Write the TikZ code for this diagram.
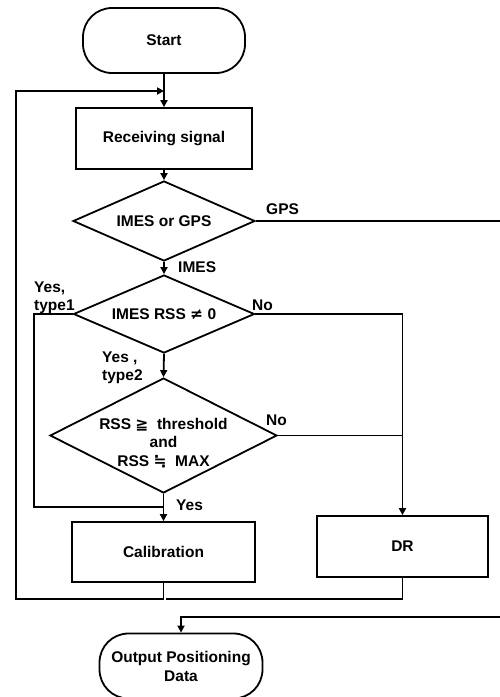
\documentclass[tikz,border=0pt]{standalone}
\usepackage{fontspec}
\setmainfont{Liberation Sans}
\newfontfamily\symfont{DejaVu Sans}
\usetikzlibrary{arrows.meta,shapes.geometric}
\begin{document}
\begin{tikzpicture}[x=1pt,y=-1pt,
  every node/.style={font=\bfseries\fontsize{15.5pt}{18.5pt}\selectfont, inner sep=0pt},
  ln/.style={line width=1.8pt},
  arr/.style={ln,-{Triangle[length=7pt,width=7pt]}},
  term/.style={draw, line width=1.8pt, rectangle, rounded corners=29pt, align=center},
  proc/.style={draw, line width=1.8pt, rectangle},
  dec/.style={draw, line width=1.8pt, diamond},
  lab/.style={anchor=west, align=left}]
\useasboundingbox (0,0) rectangle (500,697);
% nodes
\node[term, minimum width=162pt, minimum height=65pt] (start) at (164,40.5) {Start};
\node[proc, minimum width=176pt, minimum height=61pt] (recv) at (164,138.5) {Receiving signal};
\node[dec, minimum width=182pt, minimum height=80pt] (d1) at (164,221) {};
\node at (d1) {IMES or GPS};
\node[dec, minimum width=181pt, minimum height=78pt] (d2) at (164,314) {};
\node at (d2) {IMES RSS {\symfont ≠} 0};
\node[dec, minimum width=227pt, minimum height=115pt] (d3) at (163.5,435.5) {};
\node[align=center] at (163.5,443) {RSS {\symfont ≧}\ \ threshold\\and\\RSS {\symfont ≒}\ \ MAX};
\node[proc, minimum width=183pt, minimum height=60pt] (cal) at (163.5,552) {Calibration};
\node[proc, minimum width=171pt, minimum height=61pt] (dr) at (402.5,546.5) {DR};
\node[term, minimum width=163pt, minimum height=65pt, align=center, font=\bfseries\fontsize{15.5pt}{19pt}\selectfont] (out) at (181,666) {Output Positioning\\Data};
% labels
\node[lab] at (266,209) {GPS};
\node[lab] at (178,267) {IMES};
\node[lab] at (34,298) {Yes,\\type1};
\node[lab] at (252,305) {No};
\node[lab] at (102,368) {Yes ,\\type2};
\node[lab] at (266,420) {No};
\node[lab] at (176,505) {Yes};
% helper coordinates
\coordinate (lb) at (16,599);
\coordinate (lt) at (16,91);
\coordinate (ya) at (34,507);
\coordinate (gpsR) at (501,221);
\coordinate (outR) at (501,617);
% connectors
\draw[arr] (start.south) -- (recv.north);
\draw[arr] (cal.south) |- (lb) -- (lt) -- (start.south |- lt);
\draw[ln] (dr.south) |- ([xshift=2pt]cal.south |- lb);
\draw[arr] (recv.south) -- (d1.north);
\draw[ln] (d1.east) -- (gpsR);
\draw[arr] (outR) -| (out.north);
\draw[arr] (d1.south) -- (d2.north);
\draw[ln] (d2.west) -| (ya) -- (cal.north |- ya);
\draw[arr] (d2.east) -| (dr.north);
\draw[ln] (d3.east) -- (d3.east -| dr.north);
\draw[arr] (d2.south) -- (d3.north);
\draw[arr] (d3.south) -- (cal.north);
\end{tikzpicture}
\end{document}
